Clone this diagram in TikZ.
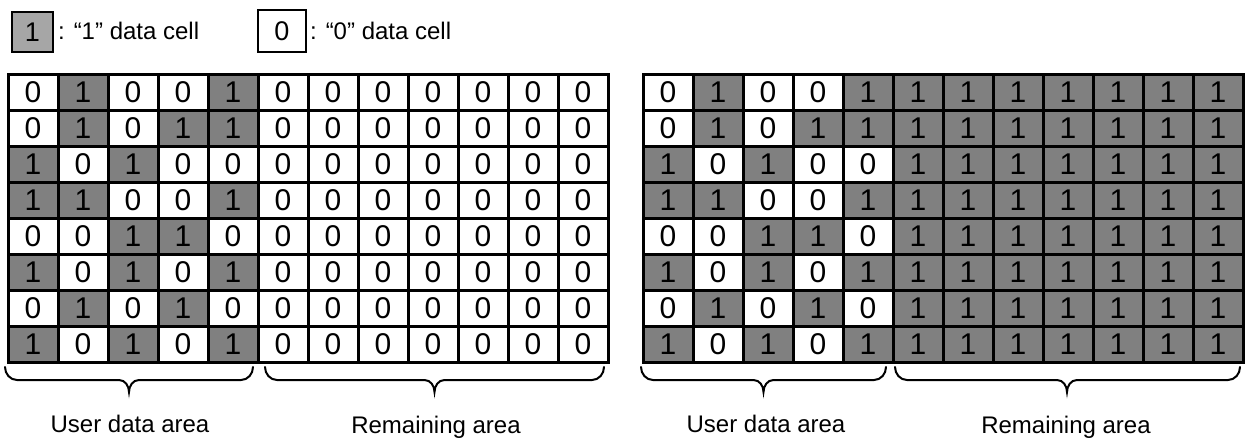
\documentclass[tikz,border=0pt]{standalone}
\usepackage{fontspec}
\setmainfont{Liberation Sans}
\definecolor{gridgray}{RGB}{128,128,128}
\definecolor{legendgray}{RGB}{166,166,166}
\newcommand\digitfont{\fontsize{30}{30}\selectfont}
\newcommand\labelfont{\fontsize{24}{24}\selectfont}
\newcommand\legdigitfont{\fontsize{27}{27}\selectfont}
\newcommand\mybrace[3]{\draw[bracestyle] (#1,367) to[out=-90,in=180] (#1+12,380) -- (#3-10,380) to[out=0,in=90] (#3,392) to[out=90,in=180] (#3+10,380) -- (#2-12,380) to[out=0,in=-90] (#2,367);}
\begin{document}
\begin{tikzpicture}[x=1pt,y=-1pt,
  cellbase/.style={draw=black, line width=3pt, minimum width=50pt, minimum height=36pt, inner sep=0pt, outer sep=0pt, font=\digitfont},
  cell0/.style={cellbase, fill=white},
  cell1/.style={cellbase, fill=gridgray},
  bracestyle/.style={line width=2pt, line cap=round},
  lbl/.style={anchor=base, font=\labelfont, inner sep=0pt},
  legbox/.style={draw=black, line width=1.5pt, inner sep=0pt, font=\legdigitfont},
  legtext/.style={anchor=base west, font=\labelfont, inner sep=0pt}]
\useasboundingbox (0,0) rectangle (1251,439);
% legend
\node[legbox, fill=legendgray, minimum width=41pt, minimum height=40pt] (lg1) at (32.5,32) {1};
\node[legtext] (lt1) at (58,39) {: “1” data cell};
\node[legbox, fill=white, minimum width=48pt, minimum height=42pt] (lg0) at (282,31) {0};
\node[legtext] (lt0) at (310,39) {: “0” data cell};
% grids
\foreach \row [count=\r] in {{0,1,0,0,1},{0,1,0,1,1},{1,0,1,0,0},{1,1,0,0,1},{0,0,1,1,0},{1,0,1,0,1},{0,1,0,1,0},{1,0,1,0,1}} {
  \foreach \v [count=\c] in \row {
    \node[cell\v] (L-\r-\c) at ({33+50*(\c-1)},{92+36*(\r-1)}) {\v};
    \node[cell\v] (R-\r-\c) at ({668+50*(\c-1)},{92+36*(\r-1)}) {\v};
  }
  \foreach \c in {6,...,12} {
    \node[cell0] (L-\r-\c) at ({33+50*(\c-1)},{92+36*(\r-1)}) {0};
    \node[cell1] (R-\r-\c) at ({668+50*(\c-1)},{92+36*(\r-1)}) {1};
  }
}
% braces
\mybrace{5}{253}{129}
\mybrace{265}{604}{434.5}
\mybrace{641}{886}{763.5}
\mybrace{895}{1240}{1067}
% labels
\node[lbl] (u1) at (130,432) {User data area};
\node[lbl] (m1) at (436,433) {Remaining area};
\node[lbl] (u2) at (766,432) {User data area};
\node[lbl] (m2) at (1066,433) {Remaining area};
\end{tikzpicture}
\end{document}
